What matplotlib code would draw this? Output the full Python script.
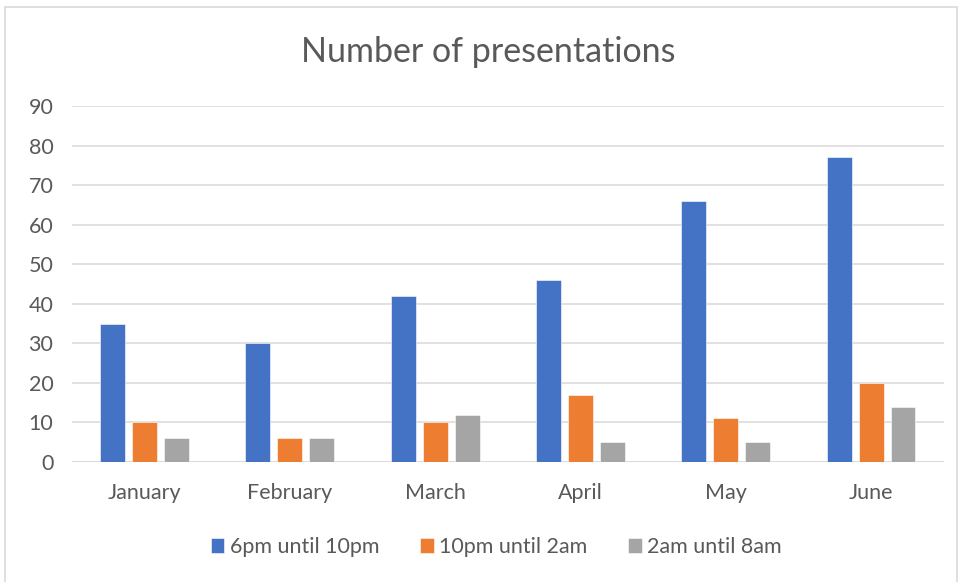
import matplotlib
matplotlib.use("Agg")
import matplotlib.pyplot as plt
from matplotlib.patches import Rectangle
import numpy as np

months = ["January", "February", "March", "April", "May", "June"]
series_names = ["6pm until 10pm", "10pm until 2am", "2am until 8am"]
evening = [35, 30, 42, 46, 66, 77]
night = [10, 6, 10, 17, 11, 20]
early = [6, 6, 12, 5, 5, 14]
y_ticks = [0, 10, 20, 30, 40, 50, 60, 70, 80, 90]

colors = ["#4472C4", "#ED7D31", "#A5A5A5"]
text_color = "#595959"
grid_color = "#D9D9D9"

plt.rcParams["font.family"] = ["Lato", "DejaVu Sans"]

fig = plt.figure(figsize=(9.6, 5.82), dpi=100)
ax = fig.add_axes([0.075, 0.2062, 0.908, 0.6117])

x = np.arange(len(months))
width = 0.172
step = 0.22
for i, (vals, name, col) in enumerate(zip([evening, night, early], series_names, colors)):
    ax.bar(x + (i - 1) * step, vals, width=width, color=col, label=name,
           edgecolor="white", linewidth=0.4, zorder=3)

ax.set_xlim(-0.5, len(months) - 0.5)
ax.set_ylim(0, 90)
ax.set_yticks(y_ticks)
ax.set_yticklabels([str(v) for v in y_ticks])
ax.set_xticks(x)
ax.set_xticklabels(months)
ax.tick_params(axis="both", length=0, labelsize=15.5, colors=text_color)
ax.tick_params(axis="y", pad=13.5)
ax.tick_params(axis="x", pad=15)
ax.yaxis.grid(True, color=grid_color, linewidth=1.1, zorder=0)
for s in ax.spines.values():
    s.set_visible(False)
ax.axhline(0, color=grid_color, linewidth=1.1, zorder=2)

fig.text(0.509, 0.91, "Number of presentations", ha="center", va="center",
         fontsize=24.5, color=text_color)

leg = fig.legend(loc="center", bbox_to_anchor=(0.517, 0.06), ncol=3, frameon=False,
                 fontsize=15.5, handlelength=0.63, handleheight=0.63,
                 handletextpad=0.25, columnspacing=1.9, labelcolor=text_color,
                 borderpad=0, borderaxespad=0)

fig.patches.append(Rectangle((0.005, -0.01), 0.992, 0.998, transform=fig.transFigure,
                             fill=False, edgecolor="#D9D9D9", linewidth=1.2))

fig.savefig("out.png", dpi=100)
